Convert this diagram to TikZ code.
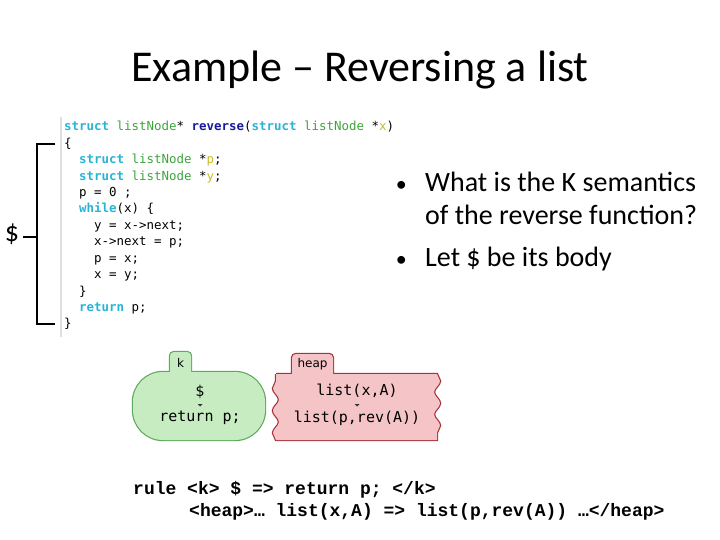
\documentclass[tikz,border=0pt]{standalone}
\usepackage{fontspec}
\setmainfont{Carlito}
\newfontfamily\codefont{DejaVu Sans Mono}
\newfontfamily\rulefont{Liberation Mono}
\newfontfamily\cellfont{DejaVu Sans}
\usetikzlibrary{positioning,decorations.pathmorphing}

\definecolor{kwcyan}{RGB}{40,180,215}
\definecolor{tygreen}{RGB}{60,165,60}
\definecolor{fnblue}{RGB}{25,25,160}
\definecolor{varyellow}{RGB}{200,185,40}
\definecolor{kfill}{RGB}{200,236,194}
\definecolor{kdraw}{RGB}{95,170,95}
\definecolor{hfill}{RGB}{245,196,198}
\definecolor{hdraw}{RGB}{165,50,60}

\newcommand\ckw[1]{\textcolor{kwcyan}{\bfseries #1}}
\newcommand\cty[1]{\textcolor{tygreen}{#1}}
\newcommand\cfn[1]{\textcolor{fnblue}{\bfseries #1}}
\newcommand\cvar[1]{\textcolor{varyellow}{#1}}

\begin{document}
\begin{tikzpicture}[
  x=1pt,y=-1pt,
  title/.style={font=\fontsize{44}{50}\selectfont,anchor=base,inner sep=0pt},
  codeline/.style={font=\codefont\fontsize{12.45}{15}\selectfont,anchor=base west,inner sep=0pt},
  bullet/.style={font=\fontsize{28}{33}\selectfont,anchor=base west,inner sep=0pt},
  dotmark/.style={font=\fontsize{22}{26}\selectfont,anchor=base east,inner sep=0pt},
  ruleline/.style={font=\rulefont\bfseries\fontsize{18}{22}\selectfont,anchor=base west,inner sep=0pt},
  celltext/.style={font=\codefont\fontsize{15}{18}\selectfont,inner sep=0pt},
  celllabel/.style={font=\cellfont\fontsize{12}{14}\selectfont,inner sep=0pt},
  dollar/.style={font=\fontsize{28}{33}\selectfont,inner sep=0pt},
  brack/.style={line width=2.7pt,miter limit=10},
  codebar/.style={draw=gray!25,line width=1.5pt},
  rewmark/.style={fill=black!80},
  wavy/.style={decoration={snake,segment length=22.3pt,amplitude=3pt}},
]
\useasboundingbox (0,0) rectangle (720,540);

%% ---- Title -----------------------------------------------------------------
\node[title] (title) at (360,82) {Example – Reversing a list};

%% ---- Code listing ----------------------------------------------------------
\draw[codebar] (61,117) -- (61,337);
\foreach \ln [count=\i from 0] in {
  {\ckw{struct} \cty{listNode}* \cfn{reverse}(\ckw{struct} \cty{listNode} *\cvar{x})},
  {\{},
  {\phantom{xx}\ckw{struct} \cty{listNode} *\cvar{p};},
  {\phantom{xx}\ckw{struct} \cty{listNode} *\cvar{y};},
  {\phantom{xx}p = 0 ;},
  {\phantom{xx}\ckw{while}(x) \{},
  {\phantom{xxxx}y = x->next;},
  {\phantom{xxxx}x->next = p;},
  {\phantom{xxxx}p = x;},
  {\phantom{xxxx}x = y;},
  {\phantom{xx}\}},
  {\phantom{xx}\ckw{return} p;},
  {\}}}
  \node[codeline] (code-\i) at (64,{131+16.4*\i}) {\ln};

%% ---- Body bracket ----------------------------------------------------------
\node[dollar] (body) at (12,234) {\$};
\coordinate (brtop) at (55,144);
\coordinate (brbot) at (55,324);
\coordinate (brmid) at (37,237);
\draw[brack] (brtop) -- (37,144) -- (37,324) -- (brbot);
\draw[brack,shorten >=4pt] (brmid) -- (brmid -| body.east);

%% ---- Bullets ---------------------------------------------------------------
\node[bullet] (q1) at (425,192) {What is the K semantics};
\node[bullet] (q2) at (425,225) {of the reverse function?};
\node[bullet] (q3) at (425,266) {Let \$ be its body};
\node[dotmark] (dot1) at ([xshift=-18pt]q1.base west) {•};
\node[dotmark] (dot2) at ([xshift=-18pt]q3.base west) {•};

%% ---- k cell (draw thick, then fill again to merge tab and body)
\foreach \dr in {kdraw,none} {
  \path[fill=kfill,draw=\dr,line width=2.4pt]
    (170,375) [rounded corners=4pt] -- (170,352) -- (191,352) -- (191,375);
  \path[fill=kfill,draw=\dr,line width=2.4pt,rounded corners=30pt]
    (133,372) rectangle (265,440);
}
\node[celllabel] (klabel) at (180.5,363) {k};
\node[celltext] (kin)  at (200,392) {\$};
\node[celltext] (kout) at (200,418) {return p;};
\fill[rewmark] (197.5,404) -- (202.5,404) -- (200,406.5) -- cycle;

%% ---- heap cell -------------------------------------------------------------
\foreach \dr in {hdraw,none} {
  \path[fill=hfill,draw=\dr,line width=2.4pt]
    (292,376) [rounded corners=4pt] -- (292,354) -- (333,354) -- (333,376);
  \path[fill=hfill,draw=\dr,line width=2.4pt,wavy]
    (276,374) -- (437,374) decorate {-- (437,440)} -- (276,440)
    decorate {-- (276,374)} -- cycle;
}
\node[celllabel] (hlabel) at (312.5,364) {heap};
\node[celltext] (hin)  at (357,391) {list(x,A)};
\node[celltext] (hout) at (357,418) {list(p,rev(A))};
\fill[rewmark] (354.5,404) -- (359.5,404) -- (357,406.5) -- cycle;

%% ---- Rule ------------------------------------------------------------------
\node[ruleline] (rule1) at (133,494) {rule <k> \$ => return p; </k>};
\node[ruleline] (rule2) at (189,516) {<heap>… list(x,A) => list(p,rev(A)) …</heap>};

\end{tikzpicture}
\end{document}
